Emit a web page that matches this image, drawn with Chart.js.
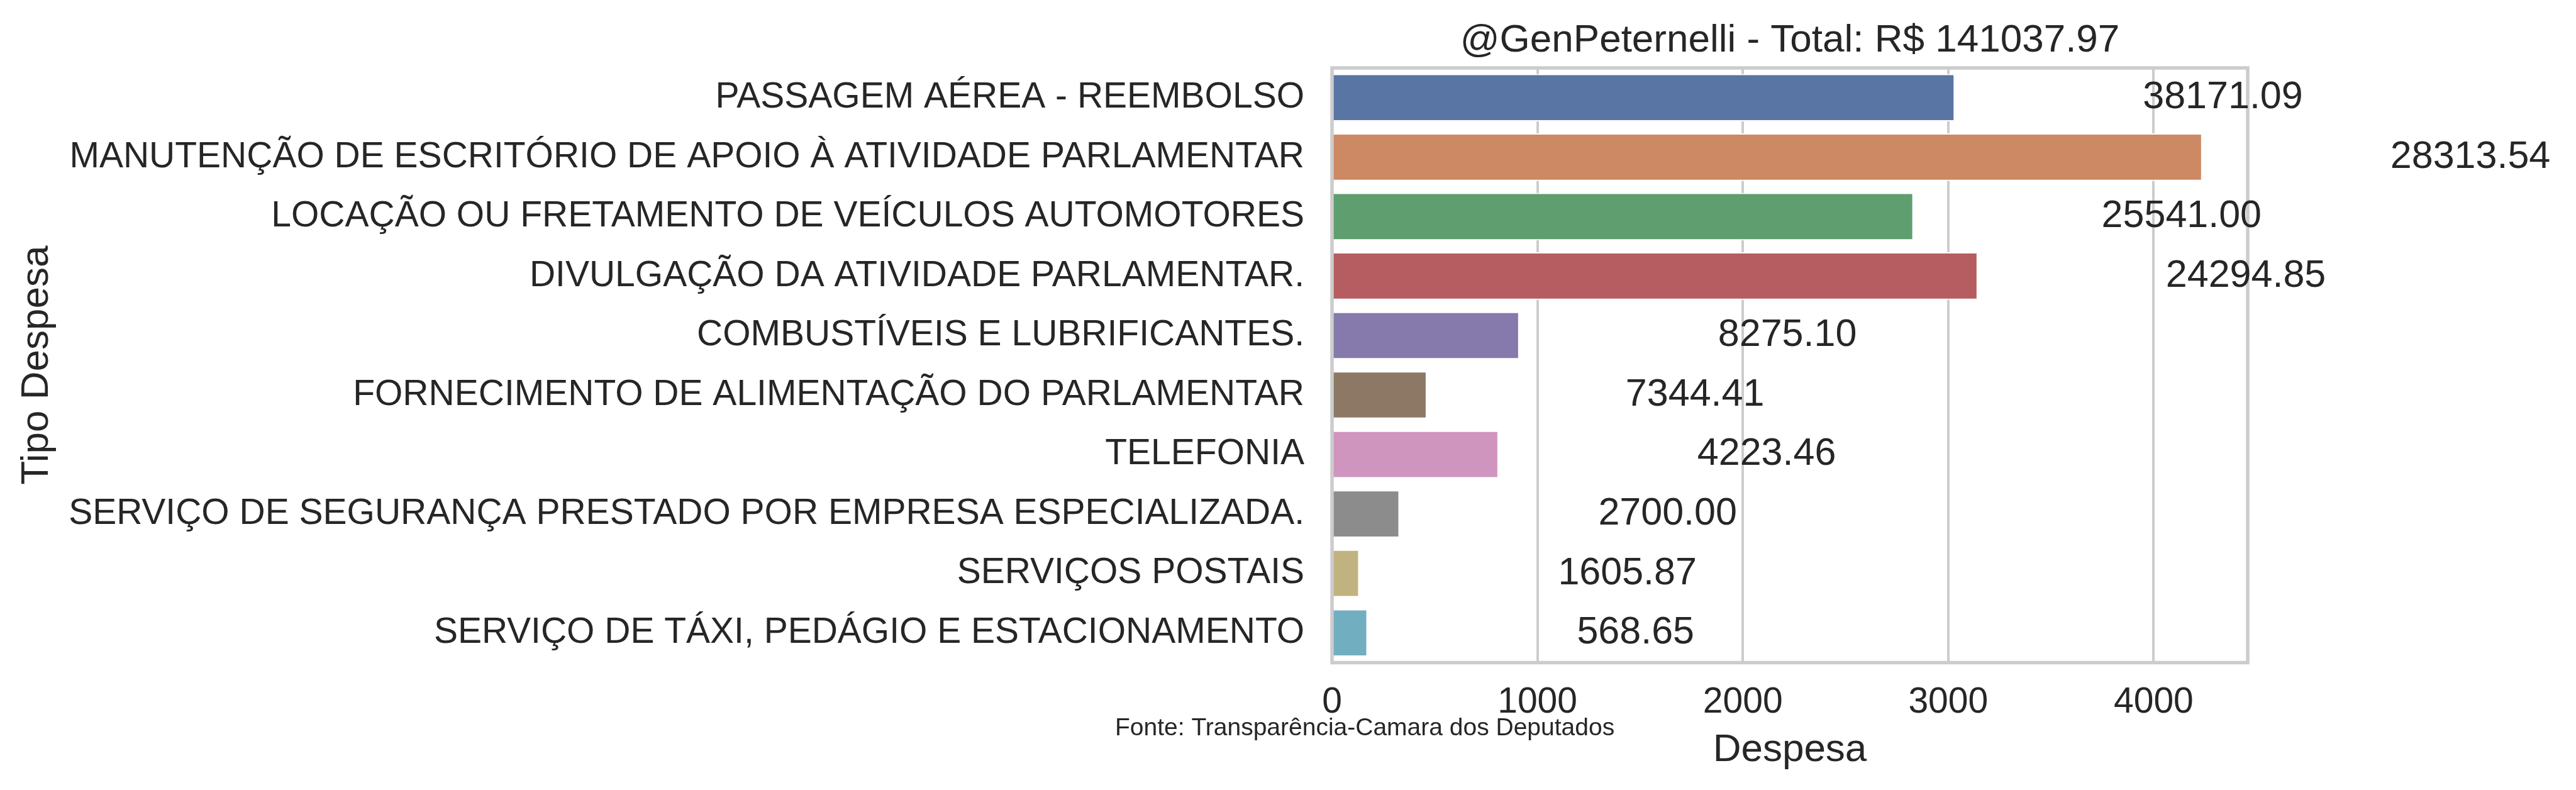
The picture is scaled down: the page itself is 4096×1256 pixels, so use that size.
<!DOCTYPE html>
<html>
<head>
<meta charset="utf-8">
<script src="https://cdn.jsdelivr.net/npm/chart.js@4.4.1/dist/chart.umd.min.js"></script>
<style>
  html, body { margin: 0; padding: 0; background: #ffffff; }
  canvas { display: block; }
</style>
</head>
<body>
<canvas id="despesaChart" width="4096" height="1256"></canvas>
<script>
const categories = [
  "PASSAGEM AÉREA - REEMBOLSO",
  "MANUTENÇÃO DE ESCRITÓRIO DE APOIO À ATIVIDADE PARLAMENTAR",
  "LOCAÇÃO OU FRETAMENTO DE VEÍCULOS AUTOMOTORES",
  "DIVULGAÇÃO DA ATIVIDADE PARLAMENTAR.",
  "COMBUSTÍVEIS E LUBRIFICANTES.",
  "FORNECIMENTO DE ALIMENTAÇÃO DO PARLAMENTAR",
  "TELEFONIA",
  "SERVIÇO DE SEGURANÇA PRESTADO POR EMPRESA ESPECIALIZADA.",
  "SERVIÇOS POSTAIS",
  "SERVIÇO DE TÁXI, PEDÁGIO E ESTACIONAMENTO"
];
// bar length = average expense per document
const meanValues = [3032, 4237, 2831, 3144, 912, 462, 811, 329, 133, 173];
// totals printed next to each bar
const totalLabels = ["38171.09", "28313.54", "25541.00", "24294.85", "8275.10",
                     "7344.41", "4223.46", "2700.00", "1605.87", "568.65"];
const xTicks = [0, 1000, 2000, 3000, 4000];
const xMax = 4458;
const titleText = "@GenPeternelli - Total: R$ 141037.97";
const sourceText = "Fonte: Transparência-Camara dos Deputados";

const barColors = ["#5975a4", "#cc8963", "#5f9e6e", "#b55d60", "#857aab",
                   "#8d7866", "#d095bf", "#8c8c8c", "#c1b37f", "#71aec0"];

const FONT = "'Liberation Sans', Arial, sans-serif";
const TEXT = "#262626";
const LABEL_OFFSET = 1305; // data units right of the bar end

const extras = {
  id: "extras",
  afterDraw(chart) {
    const { ctx, chartArea: a, scales } = chart;
    ctx.save();
    // spines
    ctx.strokeStyle = "#cccccc";
    ctx.lineWidth = 5.5;
    ctx.strokeRect(a.left, a.top, a.right - a.left, a.bottom - a.top);

    ctx.fillStyle = TEXT;
    // value labels
    ctx.font = "61px " + FONT;
    ctx.textAlign = "center";
    ctx.textBaseline = "middle";
    meanValues.forEach((v, i) => {
      const x = scales.x.getPixelForValue(v + LABEL_OFFSET);
      const y = scales.y.getPixelForValue(i);
      ctx.fillText(totalLabels[i], x, y);
    });

    const cx = (a.left + a.right) / 2;
    ctx.textBaseline = "alphabetic";
    ctx.font = "62px " + FONT;
    ctx.fillText(titleText, cx, 82);
    ctx.fillText("Despesa", cx, 1210);

    ctx.save();
    ctx.translate(76, (a.top + a.bottom) / 2);
    ctx.rotate(-Math.PI / 2);
    ctx.fillText("Tipo Despesa", 0, 0);
    ctx.restore();

    ctx.textAlign = "left";
    ctx.font = "39px " + FONT;
    ctx.fillText(sourceText, 1773, 1169);
    ctx.restore();
  }
};

new Chart(document.getElementById("despesaChart"), {
  type: "bar",
  data: {
    labels: categories,
    datasets: [{
      data: meanValues,
      backgroundColor: barColors,
      borderColor: "#ffffff",
      borderWidth: 2,
      barPercentage: 0.8,
      categoryPercentage: 1.0
    }]
  },
  options: {
    indexAxis: "y",
    responsive: false,
    animation: false,
    layout: { padding: { left: 0, top: 108, right: 522, bottom: 0 } },
    plugins: { legend: { display: false }, tooltip: { enabled: false } },
    scales: {
      x: {
        min: 0,
        max: xMax,
        afterFit: s => { s.height = 202.5; },
        afterBuildTicks: s => { s.ticks = xTicks.map(v => ({ value: v })); },
        grid: { color: "#cccccc", lineWidth: 4, drawTicks: false },
        border: { display: false },
        ticks: {
          color: TEXT,
          font: { family: FONT, size: 57 },
          padding: 30,
          callback: v => String(v)
        }
      },
      y: {
        afterFit: s => { s.width = 2118; },
        grid: { display: false, drawTicks: false },
        border: { display: false },
        ticks: { color: TEXT, font: { family: FONT, size: 57 }, padding: 44 }
      }
    }
  },
  plugins: [extras]
});
</script>
</body>
</html>
